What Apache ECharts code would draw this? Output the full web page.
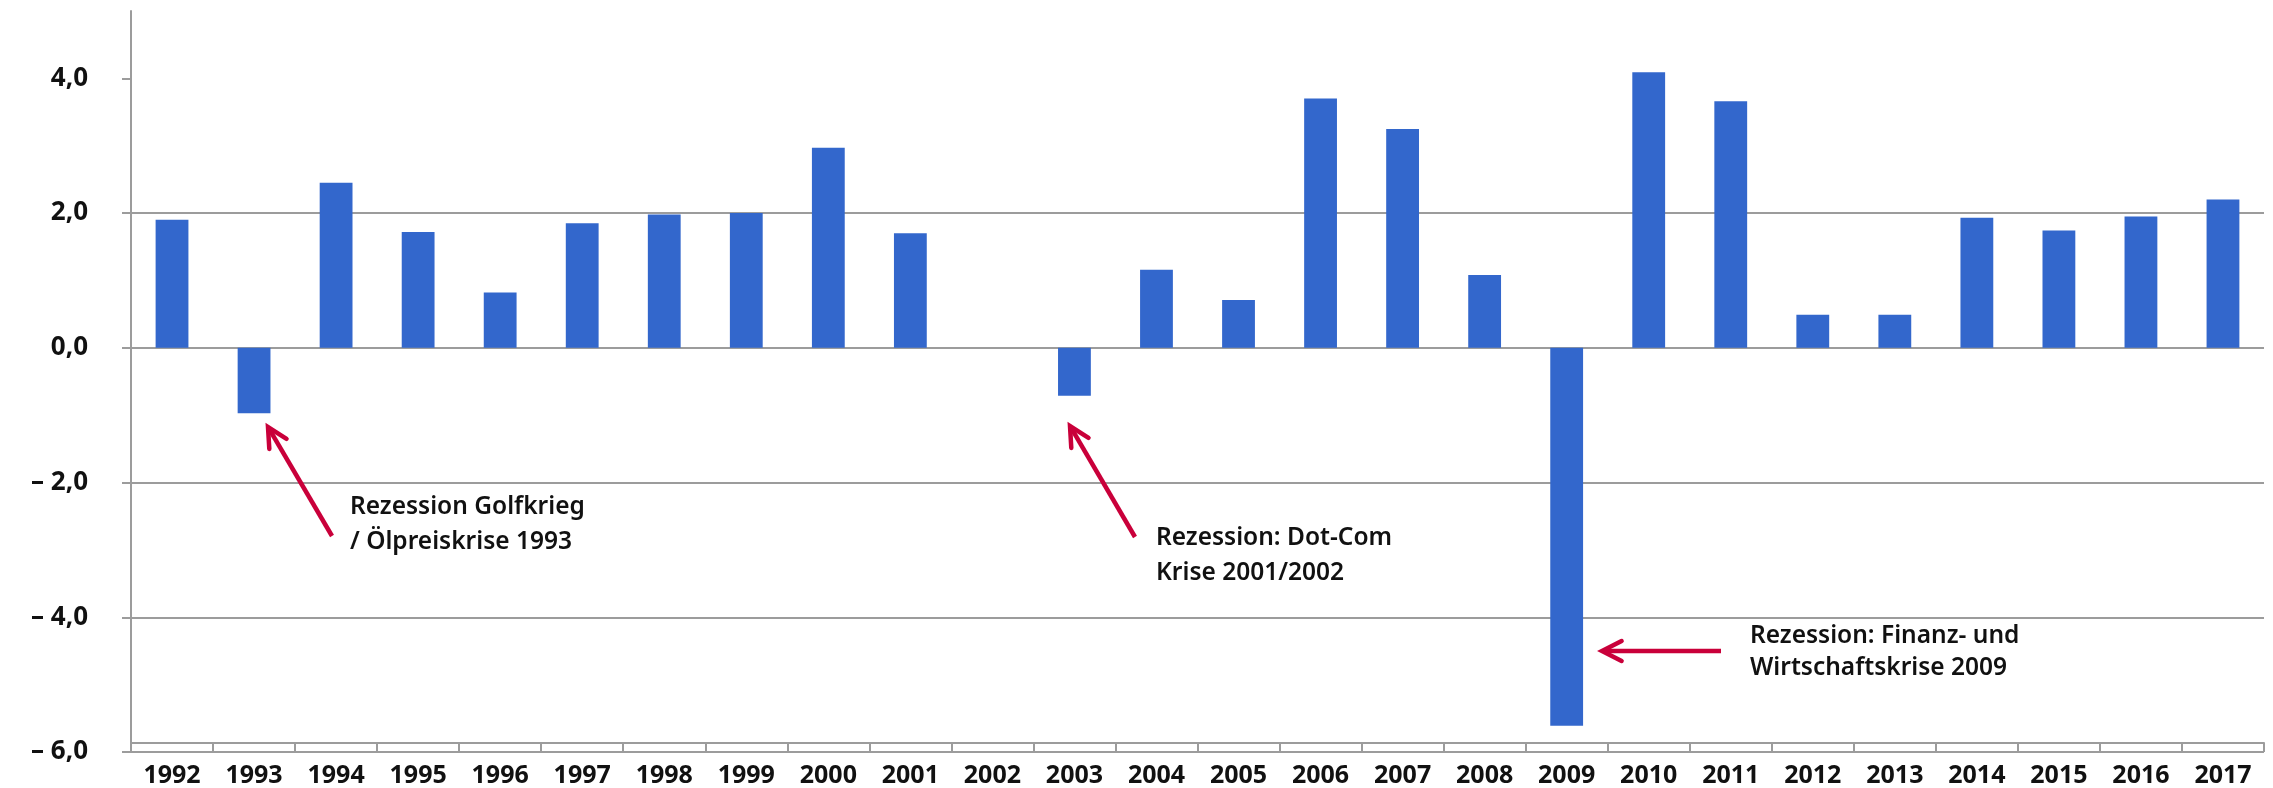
<!DOCTYPE html>
<html>
<head>
<meta charset="utf-8">
<script src="https://cdn.jsdelivr.net/npm/echarts@6/dist/echarts.min.js"></script>
<style>
  html, body { margin: 0; padding: 0; background: #fff; }
  #chart { width: 2273px; height: 788px; }
</style>
</head>
<body>
<div id="chart"></div>
<script>
// BIP-Wachstum (Veränderung ggü. Vorjahr in %)
var years = ['1992', '1993', '1994', '1995', '1996', '1997', '1998', '1999', '2000', '2001', '2002', '2003', '2004',
             '2005', '2006', '2007', '2008', '2009', '2010', '2011', '2012', '2013', '2014', '2015', '2016', '2017'];
var growth = [1.90, -0.97, 2.45, 1.72, 0.82, 1.85, 1.98, 2.00, 2.97, 1.70, 0.00, -0.71, 1.16,
              0.71, 3.70, 3.25, 1.08, -5.61, 4.09, 3.66, 0.49, 0.49, 1.93, 1.74, 1.95, 2.20];
var yTicks = [-6, -4, -2, 0, 2, 4];

var notes = [
    { text: 'Rezession Golfkrieg\n/ Ölpreiskrise 1993', x: 350, y: 490, lh: 35, tip: [268, 427], tail: [332, 536] },
    { text: 'Rezession: Dot-Com\nKrise 2001/2002', x: 1156, y: 521, lh: 35, tip: [1070, 426], tail: [1135, 537] },
    { text: 'Rezession: Finanz- und\nWirtschaftskrise 2009', x: 1750, y: 620, lh: 32, tip: [1602, 651], tail: [1721, 651] }
];

var red = '#c9003a';
var grey = '#9c9c9c';
var font = "'Noto Sans', 'DejaVu Sans', sans-serif";

function fmt(v) {
    if (yTicks.indexOf(v) < 0) return '';
    var s = Math.abs(v).toFixed(1).replace('.', ',');
    return v < 0 ? '\u2013 ' + s : s;
}

function arrow(tip, tail) {
    var dx = tail[0] - tip[0], dy = tail[1] - tip[1];
    var len = Math.sqrt(dx * dx + dy * dy);
    var ux = dx / len, uy = dy / len;
    var a = 27 * Math.PI / 180, h = 22;
    var p1 = [tip[0] + h * (ux * Math.cos(a) - uy * Math.sin(a)), tip[1] + h * (ux * Math.sin(a) + uy * Math.cos(a))];
    var p2 = [tip[0] + h * (ux * Math.cos(a) + uy * Math.sin(a)), tip[1] + h * (-ux * Math.sin(a) + uy * Math.cos(a))];
    return [
        { type: 'line', shape: { x1: tip[0] + ux * 2, y1: tip[1] + uy * 2, x2: tail[0], y2: tail[1] },
          style: { stroke: red, lineWidth: 4.5 }, z: 10 },
        { type: 'polyline', shape: { points: [p1, tip, p2] },
          style: { stroke: red, lineWidth: 4.5, fill: null, lineJoin: 'miter', lineCap: 'round' }, z: 10 }
    ];
}

var graphics = [];
notes.forEach(function (n) {
    graphics = graphics.concat(arrow(n.tip, n.tail));
    graphics.push({
        type: 'text', left: n.x, top: n.y, z: 10,
        style: { text: n.text, font: '600 24.5px ' + font, fill: '#111', lineHeight: n.lh }
    });
});

var chart = echarts.init(document.getElementById('chart'));
chart.setOption({
    animation: false,
    backgroundColor: '#fff',
    grid: { left: 131, right: 9, top: 11, bottom: 36, containLabel: false },
    xAxis: {
        type: 'category',
        data: years,
        position: 'bottom',
        offset: -9,
        axisLine: { onZero: false, lineStyle: { color: grey, width: 2 } },
        axisTick: { show: true, interval: 0, length: 9, lineStyle: { color: grey, width: 2 } },
        axisLabel: { interval: 0, margin: 20, color: '#111', fontSize: 25, fontWeight: 'bold', fontFamily: font },
        splitLine: { show: false }
    },
    yAxis: {
        type: 'value',
        min: -6,
        max: 5,
        interval: 2,
        axisLine: { show: true, lineStyle: { color: grey, width: 2 } },
        axisTick: { show: true, length: 9, customValues: yTicks, lineStyle: { color: grey, width: 2 } },
        axisLabel: { margin: 43, color: '#111', fontSize: 26, fontWeight: 'bold', fontFamily: font, formatter: fmt },
        splitLine: { show: true, showMaxLine: false, lineStyle: { color: grey, width: 2 } }
    },
    series: [{
        type: 'bar',
        data: growth,
        barWidth: '40%',
        itemStyle: { color: '#3367cc' },
        z: 3
    }],
    graphic: graphics
});
</script>
</body>
</html>
